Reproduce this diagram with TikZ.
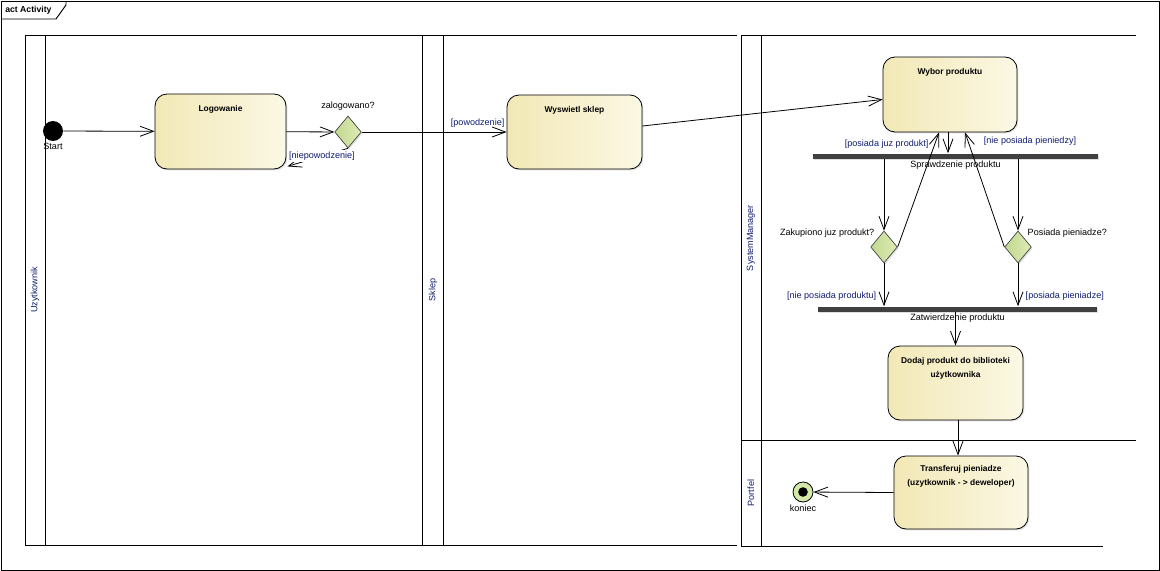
\documentclass[tikz,border=0pt]{standalone}
\usepackage{fontspec}
\setmainfont{Liberation Sans}
\usetikzlibrary{arrows.meta,shapes.geometric,shadows,calc}
\definecolor{actleft}{RGB}{242,232,182}
\definecolor{actright}{RGB}{251,248,228}
\definecolor{decleft}{RGB}{194,216,142}
\definecolor{decright}{RGB}{222,235,184}
\definecolor{guardblue}{RGB}{16,28,112}
\definecolor{barfill}{RGB}{64,64,64}
\definecolor{endfill}{RGB}{212,232,170}
\tikzset{
  act/.style={draw, line width=0.6pt, rounded corners=9pt, left color=actleft, right color=actright,
    minimum width=100.5pt, minimum height=55.5pt,
    drop shadow={shadow xshift=1pt, shadow yshift=-1pt, opacity=0.25}},
  acttitle/.style={anchor=north, yshift=-9pt, inner sep=0pt, align=center,
    font=\fontsize{6.3}{10}\selectfont\bfseries},
  decision/.style={diamond, draw=black!75, line width=0.5pt, left color=decleft, right color=decright,
    minimum width=20pt, minimum height=24pt, inner sep=0pt,
    drop shadow={shadow xshift=1pt, shadow yshift=-1pt, opacity=0.25}},
  syncbar/.style={fill=barfill, minimum height=3.75pt, inner sep=0pt,
    drop shadow={shadow xshift=1pt, shadow yshift=-1pt, opacity=0.25}},
  startnode/.style={circle, fill=black, minimum size=15pt, inner sep=0pt},
  endnode/.style={circle, draw, line width=0.6pt, fill=endfill, minimum size=15pt, inner sep=0pt,
    path picture={\fill[black] (path picture bounding box.center) circle (3.6pt);}},
  flow/.style={-{Straight Barb[length=10pt,width=7.5pt]}, line width=0.6pt},
  plaintxt/.style={font=\fontsize{6.8}{8}\selectfont, inner sep=1.5pt},
  guard/.style={plaintxt, text=guardblue},
  lanename/.style={rotate=90, font=\fontsize{6.8}{8}\selectfont, text=guardblue},
  laneline/.style={line width=0.7pt}
}
\begin{document}
\begin{tikzpicture}[x=0.75pt,y=-0.75pt]
  \useasboundingbox (0,0) rectangle (1160,571);
  \draw[laneline] (1,1) rectangle (1159,570);
  \draw[laneline] (66,1) -- (66,5) -- (56,19) -- (1,19);
  \node[plaintxt, anchor=west, font=\fontsize{6.5}{8}\selectfont\bfseries] (frametitle) at (3,10) {act Activity};

  \draw[laneline] (422,35) -- (25,35) -- (25,545) -- (422,545);
  \draw[laneline] (45,35) -- (45,545);
  \draw[laneline] (737,35) -- (422,35) -- (422,545) -- (737,545);
  \draw[laneline] (443,35) -- (443,545);
  \draw[laneline] (1136,35) -- (741,35) -- (741,546) -- (1103,546);
  \draw[laneline] (761,35) -- (761,546);
  \draw[laneline] (741,440) -- (1136,440);

  \node[lanename] (uzyt) at (35,290) {Uzytkownik};
  \node[lanename] (sklepname) at (433,290) {Sklep};
  \node[lanename] (sysman) at (751,238) {SystemManager};
  \node[lanename] (portfel) at (751,493) {Portfel};

  \node[startnode, label={[plaintxt]below:Start}] (start) at (53,131) {};
  \node[act, minimum width=98.25pt, minimum height=56.25pt, label={[acttitle]north:Logowanie}] (login) at (220.5,131.5) {};
  \node[decision, label={[plaintxt, label distance=2pt]above:zalogowano?}] (zalog) at (348,132) {};
  \node[act, minimum width=101.25pt, label={[acttitle]north:Wyswietl sklep}] (sklep) at (574.5,132) {};
  \node[act, minimum height=56.25pt, label={[acttitle]north:Wybor produktu}] (wybor) at (950,94.5) {};
  \node[syncbar, minimum width=213.75pt, label={[plaintxt]below:Sprawdzenie produktu}] (fork) at (955.5,156) {};
  \node[decision, label={[plaintxt]above left:Zakupiono juz produkt?}] (zakup) at (884,247) {};
  \node[decision, label={[plaintxt]above right:Posiada pieniadze?}] (posiada) at (1018,247) {};
  \node[syncbar, minimum width=209.25pt, label={[plaintxt]below:Zatwierdzenie produktu}] (join) at (957.5,309) {};
  \node[act, minimum width=101.25pt, label={[acttitle]north:Dodaj produkt do biblioteki\\użytkownika}] (dodaj) at (955.5,383) {};
  \node[act, minimum height=54.75pt, label={[acttitle, yshift=1.5pt]north:Transferuj pieniadze\\(uzytkownik - > deweloper)}] (transfer) at (961,492.5) {};
  \node[endnode, label={[plaintxt]below:koniec}] (koniec) at (803,492) {};

  \coordinate (wyborout) at ($(wybor.south)+(-2,0)$);
  \coordinate (wyborin1) at ($(wybor.south)+(-11,0)$);
  \coordinate (wyborin2) at ($(wybor.south)+(15,0)$);
  \coordinate (dodajout) at ($(dodaj.south)+(2.5,0)$);
  \coordinate (loginin) at ($(login.south east)+(1,-3)$);

  \draw[flow] (start) -- (login);
  \draw[flow] (login) -- (zalog);
  \draw[flow] (zalog) -- node[guard, pos=0.8, above=2pt]{[powodzenie]} (sklep);
  \draw[flow] (zalog.south) -- node[guard, fill=white, pos=0.43]{[niepowodzenie]} (loginin);
  \draw[flow] ($(sklep.east)+(0,-6)$) -- ($(wybor.west)+(0,5)$);
  \draw[flow] (wyborout) -- (wyborout |- fork.north);
  \draw[flow] (fork.south -| zakup) -- (zakup.north);
  \draw[flow] (fork.south -| posiada) -- (posiada.north);
  \draw[flow] (zakup.east) -- node[guard, pos=0.9, left=3pt]{[posiada juz produkt]} (wyborin1);
  \draw[flow] (posiada.west) -- node[guard, pos=0.92, right=10pt]{[nie posiada pieniedzy]} (wyborin2);
  \draw[flow] (zakup.south) -- node[guard, pos=0.77, left=4pt]{[nie posiada produktu]} (zakup.south |- join.north);
  \draw[flow] (posiada.south) -- node[guard, pos=0.77, right=4pt]{[posiada pieniadze]} (posiada.south |- join.north);
  \draw[flow] (join.south -| dodaj) -- (dodaj.north);
  \draw[flow] (dodajout) -- (dodajout |- transfer.north);
  \draw[flow] (transfer.west) -- (koniec);
\end{tikzpicture}
\end{document}
